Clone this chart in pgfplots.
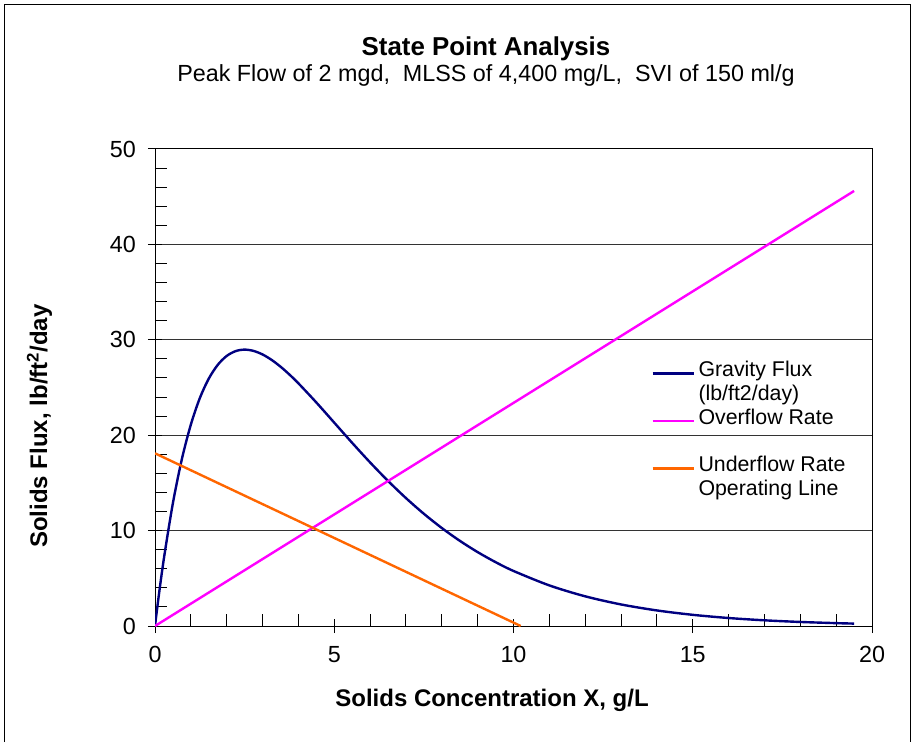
\documentclass[border=0pt]{standalone}
\usepackage{fontspec}
\setmainfont{Liberation Sans}
\usepackage{pgfplots}
\pgfplotsset{compat=1.18}

\definecolor{gravity}{HTML}{000080}
\definecolor{overflow}{HTML}{FF00FF}
\definecolor{underflow}{HTML}{FF6600}

% 1 px of the reference = 0.75pt, origin at the top left corner
\begin{document}
\begin{tikzpicture}
\path (0,0) rectangle (914*0.75pt,-742*0.75pt);
\draw[line width=0.75pt] (4.5*0.75pt,-742*0.75pt) -- (4.5*0.75pt,-5*0.75pt)
  -- (910.5*0.75pt,-5*0.75pt) -- (910.5*0.75pt,-742*0.75pt);

\node[anchor=base,font=\fontsize{19.4}{23}\selectfont\bfseries] at (486*0.75pt,-56*0.75pt) {State Point Analysis};
\node[anchor=base,font=\fontsize{17.5}{21}\selectfont] at (486*0.75pt,-82*0.75pt) {Peak Flow of 2 mgd, \ MLSS of 4,400 mg/L, \ SVI of 150 ml/g};
\node[anchor=base,font=\fontsize{18}{22}\selectfont\bfseries] at (492*0.75pt,-706*0.75pt) {Solids Concentration X, g/L};
\node[anchor=base,rotate=90,font=\fontsize{18}{22}\selectfont\bfseries] at (47*0.75pt,-426*0.75pt) {Solids Flux, lb/ft\textsuperscript{2}/day};

\begin{axis}[
  at={(155*0.75pt,-626*0.75pt)}, anchor=south west,
  scale only axis, width=537.75pt, height=357.75pt,
  xmin=0, xmax=20, ymin=0, ymax=50,
  xtick={0,5,...,20}, ytick={0,10,...,50},
  minor x tick num=4, minor y tick num=4,
  xtick pos=bottom, ytick pos=left,
  ymajorgrids, major grid style={black!80, line width=0.75pt},
  axis line style={black, line width=0.75pt},
  tick style={black, line width=0.75pt},
  tick align=center, major tick length=10.5pt, minor tick length=9pt,
  every minor x tick/.append style={yshift=4.5pt},
  every minor y tick/.append style={xshift=4.5pt},
  /pgf/number format/assume math mode=true,
  ticklabel style={font=\fontsize{17.5}{21}\selectfont, inner sep=0pt},
  xticklabel style={yshift=-10pt},
  yticklabel style={xshift=-9pt},
  legend cell align=left,
  legend image code/.code={\draw[#1] (0pt,0pt) -- (31pt,0pt);},
  legend style={at={(0.692,0.555)}, anchor=north west, draw=none, fill=none,
    inner sep=0pt, font=\fontsize{16}{19}\selectfont, row sep=0pt,
    nodes={inner sep=0pt, text height=11.5pt, text depth=6.3pt},
    /tikz/every odd column/.append style={column sep=2.5pt}},
]
\addplot[gravity, line width=1.8pt, smooth] coordinates {
(0,0) (0.1,3.026) (0.25,7.126) (0.5,12.895) (0.75,17.502) (1,21.115)
(1.25,23.882) (1.5,25.931) (1.75,27.374) (2,28.308) (2.25,28.816)
(2.5,28.971) (2.75,28.835) (3,28.463) (3.25,27.900) (3.5,27.187)
(3.75,26.357) (4,25.439) (4.5,23.431) (5,21.315) (5.5,19.197)
(6,17.146) (6.5,15.208) (7,13.409) (7.5,11.762) (8,10.272)
(8.5,8.936) (9,7.746) (9.5,6.694) (10,5.770) (11,4.254) (12,3.111)
(13,2.259) (14,1.631) (15,1.171) (16,0.837) (17,0.596) (18,0.423)
(19,0.300) (19.5,0.252)};
\addlegendentry{Gravity Flux}
\addlegendimage{empty legend}
\addlegendentry{(lb/ft2/day)}
\addplot[overflow, line width=1.8pt] coordinates {(0,0) (19.5,45.6)};
\addlegendentry{Overflow Rate}
\addlegendimage{empty legend}
\addlegendentry{}
\addplot[underflow, line width=1.8pt] coordinates {(0,18.1) (10.2,0)};
\addlegendentry{Underflow Rate}
\addlegendimage{empty legend}
\addlegendentry{Operating Line}
\end{axis}
\end{tikzpicture}
\end{document}
